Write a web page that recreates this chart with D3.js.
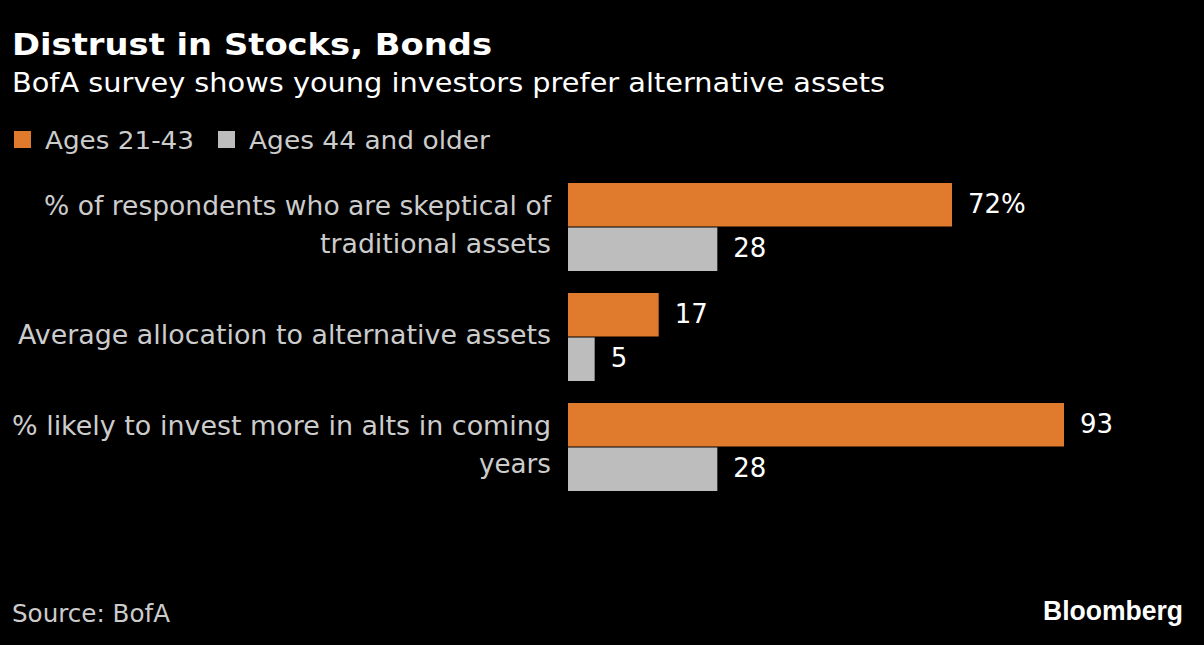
<!DOCTYPE html>
<html><head><meta charset="utf-8">
<script src="https://cdn.jsdelivr.net/npm/d3@7"></script>
<style>body{margin:0;background:#000}svg{display:block}</style>
</head><body>
<script>
const categories = [["% of respondents who are skeptical of","traditional assets"],["Average allocation to alternative assets"],["% likely to invest more in alts in coming","years"]];
const young = [72,17,93];
const older = [28,5,28];
const valueLabels = [["72%","28"],["17","5"],["93","28"]];
const seriesNames = ["Ages 21-43","Ages 44 and older"];
const colors = ["#e07b2e","#bdbdbd"];

const W=1204,H=645;
const svg=d3.select("body").append("svg").attr("width",W).attr("height",H).style("background","#000");
const font="DejaVu Sans, sans-serif";
function fit(t,w){t.attr("textLength",w).attr("lengthAdjust","spacingAndGlyphs");return t;}
fit(svg.append("text").attr("x",12).attr("y",55).attr("fill","#fff").attr("font-family",font).attr("font-weight","bold").attr("font-size",31).text("Distrust in Stocks, Bonds"),480);
fit(svg.append("text").attr("x",12).attr("y",92).attr("fill","#fff").attr("font-family",font).attr("font-size",27).text("BofA survey shows young investors prefer alternative assets"),873);
let lx=14;
const legW=[149,241];
seriesNames.forEach((n,i)=>{
  const g=svg.append("g");
  g.append("rect").attr("x",lx).attr("y",131).attr("width",17).attr("height",17).attr("fill",colors[i]);
  fit(g.append("text").attr("x",lx+31).attr("y",149).attr("fill","#ccc").attr("font-family",font).attr("font-size",25).text(n),legW[i]);
  lx+=31+legW[i]+24;
});
const x=d3.scaleLinear().domain([0,93]).range([568,1064]);
const y=d3.scaleBand().domain(d3.range(3)).range([183,491]).paddingInner(0.2);
const bh=y.bandwidth()/2;
const labW=[[507,231],[533],[539,72]];
d3.range(3).forEach(i=>{
  const vals=[young[i],older[i]];
  vals.forEach((v,j)=>{
    const yy=y(i)+j*bh;
    svg.append("rect").attr("x",x(0)).attr("y",yy+(j?0.5:0)).attr("width",x(v)-x(0)).attr("height",bh-0.5).attr("fill",colors[j]);
    svg.append("text").attr("x",x(v)+16).attr("y",yy+bh/2+8).attr("fill","#fff").attr("font-family",font).attr("font-size",26).text(valueLabels[i][j]);
  });
  const lines=categories[i];
  const cy=y(i)+y.bandwidth()/2;
  lines.forEach((l,k)=>{
    fit(svg.append("text").attr("x",551).attr("y",cy+7+(k-(lines.length-1)/2)*38).attr("text-anchor","end").attr("fill","#ccc").attr("font-family",font).attr("font-size",26).text(l),labW[i][k]);
  });
});
fit(svg.append("text").attr("x",12).attr("y",622).attr("fill","#ccc").attr("font-family",font).attr("font-size",24).text("Source: BofA"),158);
fit(svg.append("text").attr("x",1043).attr("y",620).attr("fill","#fff").attr("font-family","Liberation Sans, Arial, sans-serif").attr("font-weight","bold").attr("font-size",27).text("Bloomberg"),140);
</script>
</body></html>
